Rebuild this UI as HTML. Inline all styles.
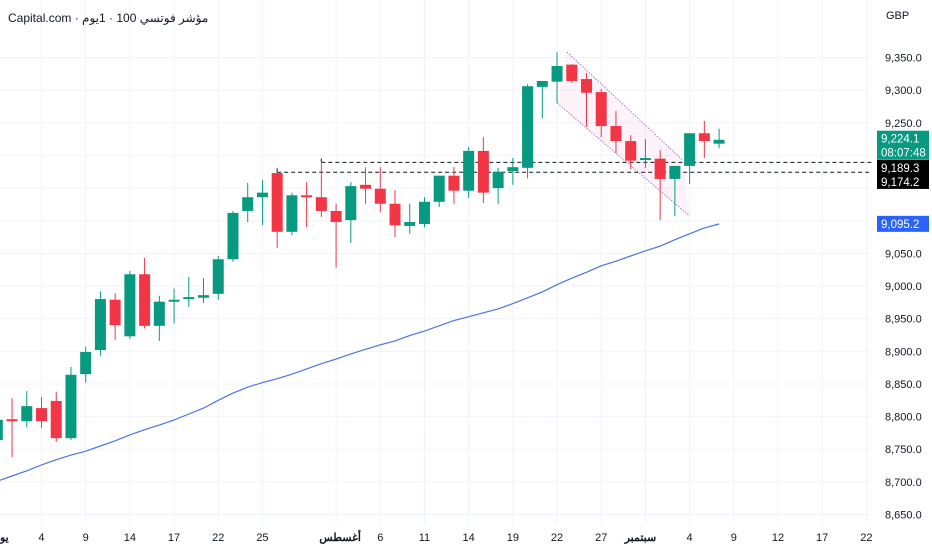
<!DOCTYPE html>
<html><head><meta charset="utf-8">
<style>
html,body{margin:0;padding:0;background:#fff;}
body{width:932px;height:550px;overflow:hidden;font-family:"Liberation Sans","Noto Sans CJK SC",sans-serif;}
svg{display:block;}
text{font-family:"Liberation Sans","Noto Sans CJK SC",sans-serif;}
</style></head>
<body>
<svg id="chart" width="932" height="550">
  <g id="grid"></g>
  <g id="channel"></g>
  <g id="levels"></g>
  <g id="ma"></g>
  <g id="candles"></g>
  <g id="yaxis"></g>
  <g id="xaxis"></g>
  <text x="8" y="22" font-size="12" fill="#131722">Capital.com · مؤشر فوتسي 100 · 1يوم</text>
  <text x="886" y="19" font-size="11" fill="#131722">GBP</text>
</svg>
<script>
const opens  = [8764,8796,8793,8813,8824,8767,8865,8902,8979,8923,9018,8939,8976,8982,8982,8988,9041,9115,9136,9173,9083,9139,9136,9115,9101,9155,9149,9126,9092,9095,9129,9169,9146,9207,9150,9176,9181,9305,9313,9339,9317,9297,9245,9222,9193,9195,9164,9184,9234,9218];
const highs  = [8802,8828,8839,8830,8838,8876,8907,8992,8989,9023,9043,8985,8996,9014,9012,9046,9115,9158,9162,9175,9143,9159,9188,9126,9159,9182,9182,9147,9126,9136,9169,9182,9213,9228,9181,9196,9309,9314,9358,9340,9326,9302,9268,9231,9225,9208,9184,9234,9253,9241];
const lows   = [8757,8738,8784,8783,8761,8764,8852,8893,8917,8919,8935,8916,8943,8968,8974,8979,9037,9098,9093,9058,9078,9090,9106,9028,9066,9126,9113,9075,9080,9090,9121,9126,9135,9127,9126,9155,9165,9257,9280,9311,9244,9228,9204,9179,9181,9101,9107,9156,9196,9211];
const closes = [8795,8793,8816,8793,8767,8864,8899,8980,8940,9018,8939,8976,8979,8983,8986,9041,9112,9136,9143,9083,9139,9136,9115,9098,9153,9149,9126,9093,9098,9129,9169,9146,9207,9143,9175,9182,9306,9314,9337,9314,9296,9245,9222,9192,9196,9164,9184,9234,9222,9224];
const maValues = [8701,8709,8717,8726,8734,8741,8747,8755,8763,8772,8780,8787,8795,8804,8813,8825,8836,8845,8852,8858,8865,8873,8881,8888,8896,8903,8910,8916,8924,8931,8939,8947,8953,8959,8965,8973,8982,8991,9002,9012,9021,9031,9038,9046,9054,9061,9071,9080,9089,9095];
const yTicks = [9350,9300,9250,9200,9150,9100,9050,9000,8950,8900,8850,8800,8750,8700,8650];
const xTickIdx = [3,6,9,12,15,18,23,26,29,32,35,38,41,44,47,50,53,56,59];
const xTickLabels = ["4","9","14","17","22","25","أغسطس","6","11","14","19","22","27","سبتمبر","4","9","12","17","22"];
const levelValues = [9189.3,9174.2];
const levelStart = [22,19];
const lastPrice = 9224.1;
const maLast = 9095.2;

const NS="http://www.w3.org/2000/svg";
function y(v){return 57.5+(9350-v)*0.6529;}
function x(i){return -2.7+14.73*i;}
function mk(parent,tag,attrs){const e=document.createElementNS(NS,tag);for(const k in attrs)e.setAttribute(k,attrs[k]);document.getElementById(parent).appendChild(e);return e;}

const boxTop=y(lastPrice)-9, boxBot=y(levelValues[0])-2.5+29;
yTicks.forEach(v=>{
  const l=mk('grid','line',{x1:0,x2:870,y1:y(v),y2:y(v),stroke:'#f0f3fa','stroke-width':1});
  
  
  if(y(v)+4>boxTop && y(v)-4<boxBot+4) return;
  const t=mk('yaxis','text',{x:885,y:y(v)+4,'font-size':11,fill:'#131722'});
  t.textContent=v.toLocaleString('en-US',{minimumFractionDigits:1});
  
  
});
xTickIdx.forEach((idx,k)=>{
  const l=mk('grid','line',{x1:x(idx),x2:x(idx),y1:0,y2:525,stroke:'#f0f3fa','stroke-width':1});
  
  
  const lab=xTickLabels[k];
  const bold=isNaN(+lab);
  const t=mk('xaxis','text',{x:x(idx)+(bold?(idx>40?-5:4):0),y:541,'font-size':11,fill:'#131722','text-anchor':'middle','font-weight':bold?'bold':'normal'});
  t.textContent=lab;
  
  
});
const tj=mk('xaxis','text',{x:0,y:541,'font-size':11,fill:'#131722','font-weight':'bold'});
tj.textContent='يو';



const p=mk('channel','polygon',{points:`${x(38)+10},52 ${x(47)-7},160 ${x(47)},216 ${x(38)},103`,fill:'rgba(242,54,145,0.06)'});


[[x(38)+10,52,x(47)-7,160],[x(38),103,x(47),216]].forEach(c=>{
  const l=mk('channel','line',{x1:c[0],y1:c[1],x2:c[2],y2:c[3],stroke:'#9c7ad6','stroke-width':1,'stroke-dasharray':'1.5 1.5'});
  
  
});

levelValues.forEach((v,k)=>{
  const l=mk('levels','line',{x1:x(levelStart[k]),x2:872,y1:y(v),y2:y(v),stroke:'#131722','stroke-width':1,'stroke-dasharray':'4 3'});
  
  
  const v2=mk('levels','line',{x1:x(levelStart[k]),x2:x(levelStart[k]),y1:y(v),y2:y(v)-4,stroke:'#131722','stroke-width':1});
  
  
});

const pts=maValues.map((v,i)=>`${x(i).toFixed(1)},${y(v).toFixed(1)}`).join(' ');
const ml=mk('ma','polyline',{points:pts,fill:'none',stroke:'#4f74e3','stroke-width':1.2});



opens.forEach((o,i)=>{
  const c=closes[i],up=c>=o,col=up?'#089981':'#f23645';
  const w=mk('candles','line',{x1:x(i),x2:x(i),y1:y(highs[i]),y2:y(lows[i]),stroke:col,'stroke-width':1});
  
  
  const top=y(Math.max(o,c)),bot=y(Math.min(o,c));
  const r=mk('candles','rect',{x:x(i)-5.5,y:top,width:11,height:Math.max(2,bot-top),fill:col});
  
  
});

function box(yc,h,fill,lines,name){
  const r=mk('yaxis','rect',{x:877,y:yc,width:52,height:h,fill:fill});
  
  
  lines.forEach((s,k)=>{
    const t=mk('yaxis','text',{x:881,y:yc+12+k*14,'font-size':11.5,fill:'#fff'});
    t.textContent=s;
    
    
  });
}
box(y(lastPrice)-9,29,'#089981',[lastPrice.toLocaleString('en-US',{minimumFractionDigits:1}),'08:07:48'],'last-price-label');
box(y(levelValues[0])-2.5,29,'#000',levelValues.map(v=>v.toLocaleString('en-US',{minimumFractionDigits:1})),'level-price-label');
box(y(maLast)-8,16,'#2962ff',[maLast.toLocaleString('en-US',{minimumFractionDigits:1})],'ma-price-label');
</script>
</body></html>
